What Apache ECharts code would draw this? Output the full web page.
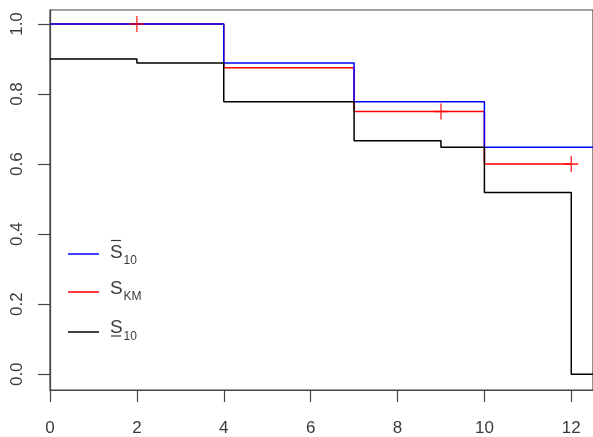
<!DOCTYPE html>
<html>
<head>
<meta charset="utf-8">
<script src="https://cdn.jsdelivr.net/npm/echarts@6/dist/echarts.min.js"></script>
<style>
html,body{margin:0;padding:0;background:#fff;}
#c{width:593px;height:437px;}
</style>
</head>
<body>
<div id="c"></div>
<script>
// ---- data ----
var xTicks = [0, 2, 4, 6, 8, 10, 12];
var yTicks = [0, 0.2, 0.4, 0.6, 0.8, 1.0];

var upperTimes = [0, 4, 7, 10, 13];
var upperSurv  = [1.0, 0.889, 0.778, 0.648, 0.648];

var kmTimes = [0, 4, 7, 10, 12];
var kmSurv  = [1.0, 0.875, 0.75, 0.60, 0.60];

var lowerTimes = [0, 2, 4, 7, 9, 10, 12, 13];
var lowerSurv  = [0.90, 0.889, 0.778, 0.667, 0.648, 0.519, 0.0, 0.0];

var censorTimes = [2, 9, 12];
var censorSurv  = [1.0, 0.75, 0.60];

function pairs(xs, ys){ return xs.map(function(x,i){ return [x, ys[i]]; }); }

var FONT = 'Liberation Sans, Arial, sans-serif';
var AX = '#444';
var TXT = '#3a3a3a';

var chart = echarts.init(document.getElementById('c'), null, {renderer:'canvas'});
chart.setOption({
  animation: false,
  backgroundColor: '#fff',
  grid: {left: 50, right: -3, top: 10, height: 380, show: true, borderColor: AX, borderWidth: 1.2, backgroundColor: 'transparent'},
  xAxis: {
    type: 'value', min: 0, max: 12.5,
    axisLine: {show: true, onZero: false, lineStyle: {color: AX, width: 1.2}},
    axisTick: {show: true, length: 12, customValues: xTicks, lineStyle: {color: AX, width: 1.2}},
    axisLabel: {customValues: xTicks, margin: 30, fontSize: 17, fontFamily: FONT, color: TXT},
    splitLine: {show: false}
  },
  yAxis: {
    type: 'value', min: -0.045, max: 1.04,
    axisLine: {show: true, onZero: false, lineStyle: {color: AX, width: 1.2}},
    axisTick: {show: true, length: 12, customValues: yTicks, lineStyle: {color: AX, width: 1.2}},
    axisLabel: {customValues: yTicks, rotate: 90, margin: 24, fontSize: 17, fontFamily: FONT, color: TXT,
      formatter: function(v){ return Number(v).toFixed(1); }},
    splitLine: {show: false}
  },
  series: [
    {type: 'line', name: 'KM', step: 'end', data: pairs(kmTimes, kmSurv), showSymbol: false, clip: true,
     lineStyle: {color: '#ff0000', width: 1.5}, z: 2},
    {type: 'line', name: 'upper', step: 'end', data: pairs(upperTimes, upperSurv), showSymbol: false, clip: true,
     lineStyle: {color: '#0000ff', width: 1.5}, z: 3},
    {type: 'line', name: 'lower', step: 'end', data: pairs(lowerTimes, lowerSurv), showSymbol: false, clip: true,
     lineStyle: {color: '#000000', width: 1.5}, z: 4},
    {type: 'scatter', name: 'censor', data: pairs(censorTimes, censorSurv),
     symbol: 'path://M7,0L7,16M0,8L14,8', symbolSize: [14, 16], symbolKeepAspect: false,
     itemStyle: {color: 'none', borderColor: '#ff0000', borderWidth: 1.5}, z: 5}
  ],
  graphic: [
    {type: 'line', shape: {x1: 68, y1: 254, x2: 99, y2: 254}, style: {stroke: '#0000ff', lineWidth: 1.5}},
    {type: 'line', shape: {x1: 68, y1: 292, x2: 99, y2: 292}, style: {stroke: '#ff0000', lineWidth: 1.5}},
    {type: 'line', shape: {x1: 68, y1: 332, x2: 99, y2: 332}, style: {stroke: '#000000', lineWidth: 1.5}},
    {type: 'text', x: 110, y: 252.5, style: {text: 'S', font: '19px ' + FONT, fill: TXT, verticalAlign: 'middle'}},
    {type: 'text', x: 123.5, y: 260.5, style: {text: '10', font: '12px ' + FONT, fill: TXT, verticalAlign: 'middle'}},
    {type: 'line', shape: {x1: 111, y1: 240.5, x2: 121, y2: 240.5}, style: {stroke: TXT, lineWidth: 1.2}},
    {type: 'text', x: 110, y: 289, style: {text: 'S', font: '19px ' + FONT, fill: TXT, verticalAlign: 'middle'}},
    {type: 'text', x: 123.5, y: 296.5, style: {text: 'KM', font: '12px ' + FONT, fill: TXT, verticalAlign: 'middle'}},
    {type: 'text', x: 110, y: 328, style: {text: 'S', font: '19px ' + FONT, fill: TXT, verticalAlign: 'middle'}},
    {type: 'text', x: 123.5, y: 336.5, style: {text: '10', font: '12px ' + FONT, fill: TXT, verticalAlign: 'middle'}},
    {type: 'line', shape: {x1: 111, y1: 336, x2: 121, y2: 336}, style: {stroke: TXT, lineWidth: 1.2}}
  ]
});
</script>
</body>
</html>
